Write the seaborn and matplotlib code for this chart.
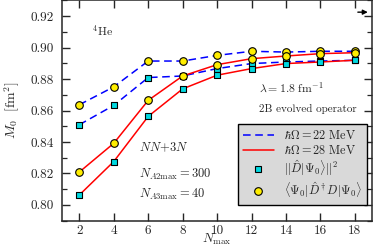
import matplotlib
matplotlib.use("Agg")
import matplotlib.pyplot as plt
import seaborn as sns
import pandas as pd
from matplotlib.lines import Line2D

nmax = [2, 4, 6, 8, 10, 12, 14, 16, 18]
m22_norm = [0.851, 0.8633, 0.881, 0.882, 0.8867, 0.8899, 0.8909, 0.8915, 0.892]
m22_expt = [0.8637, 0.8751, 0.8915, 0.8915, 0.8951, 0.8977, 0.8972, 0.8977, 0.8977]
m28_norm = [0.8063, 0.8276, 0.8563, 0.8738, 0.8825, 0.8867, 0.8899, 0.8909, 0.892]
m28_expt = [0.8209, 0.8392, 0.8665, 0.882, 0.8892, 0.893, 0.8947, 0.8962, 0.8968]
yticks = [0.80, 0.82, 0.84, 0.86, 0.88, 0.90, 0.92]
xticks = [2, 4, 6, 8, 10, 12, 14, 16, 18]

sns.set_style("ticks")
plt.rcParams["font.family"] = ["cmr10", "DejaVu Serif"]
plt.rcParams["mathtext.fontset"] = "cm"
plt.rcParams["axes.formatter.use_mathtext"] = True

fig = plt.figure(figsize=(3.74, 2.46), dpi=100)
ax = fig.add_axes([0.166, 0.103, 0.829, 0.895])

blue = "#0000ff"
red = "#ff0000"
cyan = "#00d8e0"
yellow = "#ffee00"

series = [
    ("22", "norm", m22_norm), ("22", "expt", m22_expt),
    ("28", "norm", m28_norm), ("28", "expt", m28_expt),
]
rows = []
for hw, kind, vals in series:
    for n, v in zip(nmax, vals):
        rows.append({"Nmax": n, "M0": v, "hw": hw, "kind": kind})
df = pd.DataFrame(rows)

for hw, color, ls in [("22", blue, (0, (5, 3))), ("28", red, "-")]:
    for kind in ["norm", "expt"]:
        d = df[(df.hw == hw) & (df.kind == kind)]
        sns.lineplot(data=d, x="Nmax", y="M0", ax=ax, color=color, lw=1.1,
                     linestyle=ls, zorder=2, legend=False)

for kind, marker, fc, s in [("norm", "s", cyan, 22), ("expt", "o", yellow, 30)]:
    d = df[df.kind == kind]
    sns.scatterplot(data=d, x="Nmax", y="M0", ax=ax, marker=marker, color=fc,
                    edgecolor="black", linewidth=0.8, s=s, zorder=3, legend=False)

ax.set_xlim(1, 19)
ax.set_ylim(0.79, 0.93)
ax.set_xticks(xticks)
ax.set_xticklabels([str(x) for x in xticks])
ax.set_yticks(yticks)
ax.set_yticklabels([f"{y:.2f}" for y in yticks])
ax.set_yticks([0.79 + 0.01 * i for i in range(15)], minor=True)
ax.tick_params(which="both", direction="in", top=True, right=True, labelsize=9.5, width=1.0)
ax.tick_params(axis="y", which="major", length=6, pad=6)
ax.tick_params(axis="x", which="major", length=6, pad=3)
ax.tick_params(which="minor", length=3.5, width=0.9)
for sp in ax.spines.values():
    sp.set_linewidth(1.1)

ax.set_xlabel(r"$N_{\max}$", fontsize=9.5, labelpad=-4)
ax.set_ylabel(r"$M_0\ \ [\mathrm{fm}^2]$", fontsize=10, labelpad=6)

ax.text(2.74, 0.911, r"$^4$He", fontsize=8.5, va="center", ha="left")
ax.text(12.45, 0.8742, r"$\lambda = 1.8\ \mathrm{fm}^{-1}$", fontsize=8.5, va="center", ha="left")
ax.text(12.42, 0.861, "2B evolved operator", fontsize=8, va="center", ha="left")
ax.text(5.46, 0.8363, r"$NN\!+\!3N$", fontsize=9, va="center", ha="left")
ax.text(5.46, 0.8194, r"$N_{A2\max} = 300$", fontsize=9, va="center", ha="left")
ax.text(5.46, 0.8065, r"$N_{A3\max} = 40$", fontsize=9, va="center", ha="left")

handles = [
    Line2D([], [], color=blue, lw=1.1, linestyle=(0, (5, 3))),
    Line2D([], [], color=red, lw=1.1),
    Line2D([], [], marker="s", color="none", markerfacecolor=cyan, markeredgecolor="black", markersize=5, markeredgewidth=0.8),
    Line2D([], [], marker="o", color="none", markerfacecolor=yellow, markeredgecolor="black", markersize=5.5, markeredgewidth=0.8),
]
labels = [
    r"$\hbar\Omega = 22\ \mathrm{MeV}$",
    r"$\hbar\Omega = 28\ \mathrm{MeV}$",
    r"$||\hat{D}|\Psi_0\rangle||^2$",
    r"$\langle\Psi_0|\hat{D}^\dagger D|\Psi_0\rangle$",
]
leg = ax.legend(handles, labels, loc="lower right", bbox_to_anchor=(0.984, 0.0725),
                borderaxespad=0, fontsize=8.8, frameon=True, fancybox=False,
                handlelength=2.6, handletextpad=0.8, labelspacing=0.15,
                borderpad=0.4)
leg.get_frame().set_facecolor("#d9d9d9")
leg.get_frame().set_edgecolor("black")
leg.get_frame().set_linewidth(1.0)
leg.get_frame().set_alpha(1)

ax.annotate("", xy=(0.995, 0.947), xytext=(0.945, 0.947), xycoords="axes fraction",
            arrowprops=dict(arrowstyle="-|>", color="black", lw=1.0, mutation_scale=7),
            annotation_clip=False)

fig.savefig("out.png", dpi=100)
